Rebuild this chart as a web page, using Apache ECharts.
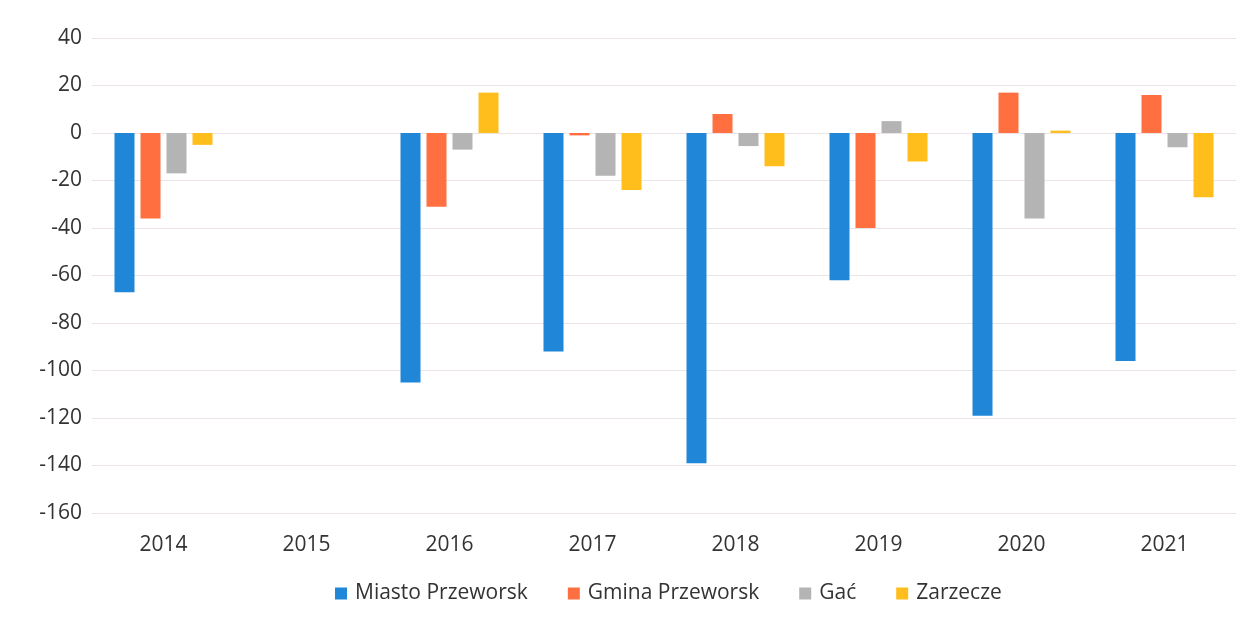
<!DOCTYPE html>
<html>
<head>
<meta charset="utf-8">
<script src="https://cdn.jsdelivr.net/npm/echarts@6/dist/echarts.min.js"></script>
<style>
  html, body { margin: 0; padding: 0; background: #fff; }
  #chart { width: 1257px; height: 637px; }
</style>
</head>
<body>
<div id="chart"></div>
<script>
var years = ['2014', '2015', '2016', '2017', '2018', '2019', '2020', '2021'];
var miastoPrzeworsk = [-67, null, -105, -92, -139, -62, -119, -96];
var gminaPrzeworsk = [-36, null, -31, -1, 8, -40, 17, 16];
var gac = [-17, null, -7, -18, -5.5, 5, -36, -6];
var zarzecze = [-5, null, 17, -24, -14, -12, 1, -27];

var chart = echarts.init(document.getElementById('chart'));

function bar(name, data, color) {
    return {
        name: name,
        type: 'bar',
        data: data,
        barWidth: 20,
        barGap: '30%',
        itemStyle: { color: color }
    };
}

chart.setOption({
    animation: false,
    textStyle: { fontFamily: 'Open Sans' },
    grid: { left: 92, right: 21, top: 38, bottom: 124 },
    legend: {
        top: 578,
        left: 330,
        itemWidth: 12,
        itemHeight: 12,
        itemGap: 40,
        icon: 'rect',
        textStyle: { fontSize: 21, color: '#333', padding: [0, 0, 0, 3] },
        data: ['Miasto Przeworsk', 'Gmina Przeworsk', 'Gać', 'Zarzecze']
    },
    xAxis: {
        type: 'category',
        data: years,
        axisLine: { show: false },
        axisTick: { show: false },
        axisLabel: { fontSize: 21, color: '#333', margin: 22 }
    },
    yAxis: {
        type: 'value',
        min: -160,
        max: 40,
        interval: 20,
        axisLine: { show: false },
        axisTick: { show: false },
        axisLabel: { fontSize: 21, color: '#333', margin: 10 },
        splitLine: { lineStyle: { color: '#ece4e6', width: 1 } }
    },
    series: [
        bar('Miasto Przeworsk', miastoPrzeworsk, '#1f86d8'),
        bar('Gmina Przeworsk', gminaPrzeworsk, '#ff6f40'),
        bar('Gać', gac, '#b4b4b4'),
        bar('Zarzecze', zarzecze, '#ffbe1c')
    ]
});
</script>
</body>
</html>
